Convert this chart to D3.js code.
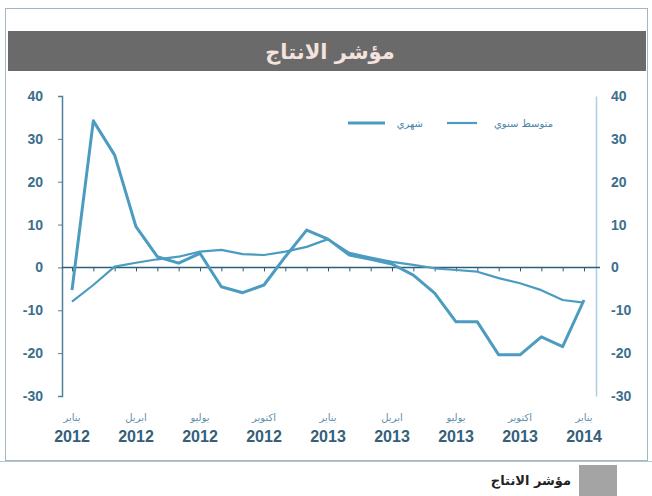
<!DOCTYPE html>
<html><head><meta charset="utf-8">
<script src="https://cdn.jsdelivr.net/npm/d3@7"></script>
<style>html,body{margin:0;padding:0;background:#fff;}svg{display:block;}</style>
</head><body>
<script>
const monthNames = ["يناير","ابريل","يوليو","اكتوبر","يناير","ابريل","يوليو","اكتوبر","يناير"];
const yearLabels = ["2012","2012","2012","2012","2013","2013","2013","2013","2014"];
const yTicks = [-30,-20,-10,0,10,20,30,40];
const monthly = [-5.3,34.2,26.2,9.5,2.5,1,3.3,-4.5,-5.9,-4.1,2.5,8.7,6.6,2.9,1.9,0.8,-1.8,-6,-12.7,-12.7,-20.4,-20.4,-16.2,-18.5,-7.6];
const average = [-8,-4.1,0.2,1.1,1.9,2.5,3.7,4.1,3.1,2.9,3.7,4.8,6.6,3.4,2.3,1.3,0.6,-0.2,-0.6,-1,-2.5,-3.7,-5.3,-7.6,-8.2];
const seriesNames = ["شهري","متوسط سنوي"];
const title = "مؤشر الانتاج";

const W = 652, H = 496;
const svg = d3.select("body").append("svg").attr("width", W).attr("height", H);
const font = "DejaVu Sans, sans-serif";
const numFont = "Liberation Sans, Arial, sans-serif";
const lineColor = "#4b9cc0";
const labelColor = "#3c6f8c";
const fmt = d => String(d);

// frame
svg.append("rect").attr("x",5.5).attr("y",8.5).attr("width",642).attr("height",452)
  .attr("fill","#fff").attr("stroke","#9fb8c6").attr("stroke-width",1);
// title bar
svg.append("rect").attr("x",8).attr("y",31).attr("width",638).attr("height",40).attr("fill","#6a6a6a");
svg.append("text").attr("x",330).attr("y",59).attr("text-anchor","middle")
  .attr("font-family",font).attr("font-weight","bold").attr("font-size",21)
  .attr("fill","#f3e2dd").attr("direction","rtl").text(title);

const x = d3.scaleLinear().domain([0, monthly.length-1]).range([72, 584]);
const y = d3.scaleLinear().domain([-30, 40]).range([396, 96]);

// left axis
const gl = svg.append("g").attr("transform","translate(62,0)")
  .call(d3.axisLeft(y).tickValues(yTicks).tickFormat(fmt).tickSize(4).tickPadding(15).tickSizeOuter(4));
gl.select(".domain").attr("stroke","#4f7f99").attr("stroke-width",1.5);
gl.selectAll(".tick line").attr("stroke","#4f7f99");
gl.selectAll("text").attr("font-family",numFont).attr("font-size",14).attr("font-weight","bold").attr("fill",labelColor);

// right axis
const gr = svg.append("g").attr("transform","translate(596,0)")
  .call(d3.axisRight(y).tickValues(yTicks).tickFormat(fmt).tickSize(0).tickPadding(15).tickSizeOuter(0));
gr.select(".domain").attr("stroke","#a9d0e2").attr("stroke-width",1.5);
gr.selectAll("text").attr("font-family",numFont).attr("font-size",14).attr("font-weight","bold").attr("fill",labelColor);

// zero line with month ticks
const gz = svg.append("g").attr("transform",`translate(0,${y(0)})`)
  .call(d3.axisBottom(x).tickValues(d3.range(monthly.length)).tickSize(4).tickFormat(""));
gz.select(".domain").remove();
gz.selectAll(".tick line").attr("stroke","#2f5f78");
svg.append("line").attr("x1",62).attr("x2",600).attr("y1",y(0)).attr("y2",y(0))
  .attr("stroke","#2f5f78").attr("stroke-width",1.6);

// x labels
const gx = svg.append("g");
monthNames.forEach((m,i)=>{
  gx.append("text").attr("x",x(i*3)).attr("y",421).attr("text-anchor","middle")
    .attr("font-family",font).attr("font-size",10).attr("fill","#5a8fae").text(m);
  gx.append("text").attr("x",x(i*3)).attr("y",442).attr("text-anchor","middle")
    .attr("font-family",numFont).attr("font-size",16).attr("font-weight","bold").attr("fill","#355f78").text(yearLabels[i]);
});

// lines
const line = d3.line().x((d,i)=>x(i)).y(d=>y(d));
svg.append("path").datum(average).attr("d",line).attr("fill","none")
  .attr("stroke",lineColor).attr("stroke-width",2.2).attr("stroke-linejoin","round");
svg.append("path").datum(monthly).attr("d",line).attr("fill","none")
  .attr("stroke",lineColor).attr("stroke-width",3).attr("stroke-linejoin","round");

// legend
const legend = [{name:seriesNames[0], x1:348, x2:385, tx:423, w:3},{name:seriesNames[1], x1:447, x2:477, tx:553, w:2.2}];
legend.forEach(l=>{
  svg.append("line").attr("x1",l.x1).attr("x2",l.x2).attr("y1",123).attr("y2",123)
    .attr("stroke",lineColor).attr("stroke-width",l.w);
  svg.append("text").attr("x",l.tx).attr("y",127).attr("text-anchor","end")
    .attr("font-family",font).attr("font-size",10).attr("fill","#4a84a6").text(l.name);
});

// bottom caption row
svg.append("line").attr("x1",0).attr("x2",W).attr("y1",461.5).attr("y2",461.5).attr("stroke","#b9c6cd");
svg.append("rect").attr("x",579).attr("y",465).attr("width",38).attr("height",31).attr("fill","#a4a4a4");
svg.append("text").attr("x",571).attr("y",485).attr("text-anchor","end")
  .attr("font-family",font).attr("font-size",13).attr("font-weight","bold").attr("fill","#222").text(title);
</script>
</body></html>
